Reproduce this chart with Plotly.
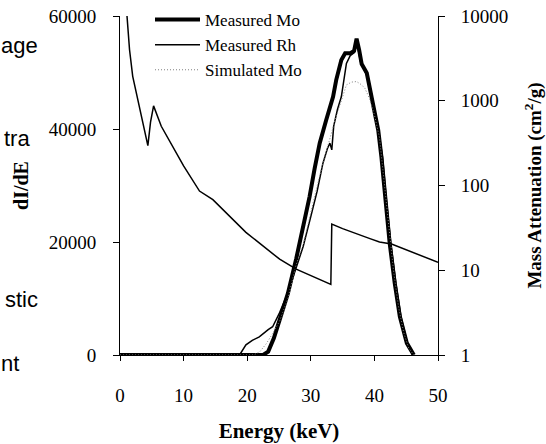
import plotly.graph_objects as go

# ---- data ----
# Measured Mo spectrum (thick line), left axis dI/dE
mo_energy = [0, 22.5, 23.3, 24.2, 25.1, 26.4, 27.7, 28.8, 29.8, 30.6, 31.4, 32.4, 33.5, 34.0,
             34.8, 35.4, 36.2, 36.8, 37.2, 37.6, 38.0, 38.8, 39.6, 40.6, 41.1, 41.7, 42.4,
             43.2, 44.0, 45.1, 45.9, 46.2]
mo_counts = [0, 0, 600, 3000, 6200, 10900, 17000, 22500, 28000, 33000, 37500, 41500, 45700, 48700,
             52200, 53400, 53400, 53800, 56000, 54000, 51500, 49900, 45700, 39800, 35100, 27400, 19800,
             12700, 6800, 2100, 300, 0]

# Measured Rh spectrum (thin black line)
rh_energy = [0, 18.8, 19.8, 20.8, 21.9, 22.5, 23.3, 24.0, 25.1, 26.4, 27.6, 28.8, 30.0, 31.0,
             31.9, 32.6, 33.0, 33.3, 33.6, 34.2, 34.8, 35.6, 36.2, 36.8, 37.3, 37.8, 38.8, 39.7,
             40.7, 41.3, 41.9, 42.6, 43.4, 44.2, 45.2, 46.0]
rh_counts = [0, 0, 1800, 2600, 3200, 3800, 4500, 5000, 7500, 11000, 15000, 19200, 24500, 29000,
             33900, 36500, 37500, 36300, 40500, 43500, 45700, 51600, 53000, 53500, 55000, 52000, 49500, 45300,
             39500, 34800, 27300, 19600, 12500, 6700, 2000, 0]

# Simulated Mo spectrum (thin grey dotted line)
sim_energy = [0, 21.0, 22.0, 23.0, 24.0, 25.1, 26.4, 27.7, 28.8, 29.8, 30.8, 31.8, 32.8, 33.8,
              34.8, 35.6, 36.4, 37.2, 38.0, 38.5, 39.2, 40.0, 40.8, 41.5, 42.3, 43.0, 43.8,
              44.6, 45.4, 46.2]
sim_counts = [0, 0, 600, 2000, 3800, 6000, 10000, 16000, 19500, 24500, 29000, 33500, 37500, 41500,
              45000, 47800, 48300, 48400, 47800, 47200, 45500, 42500, 38500, 31500, 22500, 15000, 8500,
              4000, 1200, 0]

# Mass attenuation curve (thin black line), right log axis
att_energy = [1.1, 1.5, 2.0, 2.8, 3.6, 4.38, 4.8, 5.28, 6.49, 8.85, 10.0, 12.5, 14.6, 19.8,
              25.1, 27.7, 33.15, 33.3, 35.0, 39.3, 40.8, 42.7, 50.0]
att_values = [10000, 4000, 1940, 1030, 550, 295, 560, 870, 500, 242, 170, 86, 68, 28,
              13.5, 10.3, 6.8, 35, 31, 23.6, 21.5, 20.4, 12.4]

x_ticks = [0, 10, 20, 30, 40, 50]
y_ticks = [0, 20000, 40000, 60000]
y2_ticks = [1, 10, 100, 1000, 10000]

# left-edge text fragments visible in the cropped reference
side_texts = ["age", "tra", "stic", "nt"]
side_text_y = [45, 138, 299, 363]
side_text_right = [40, 32, 40, 21]

SERIF = "Liberation Serif, Times New Roman, serif"

fig = go.Figure()
fig.add_trace(go.Scatter(x=mo_energy, y=mo_counts, mode="lines", name="Measured Mo",
                         line=dict(color="black", width=4)))
fig.add_trace(go.Scatter(x=rh_energy, y=rh_counts, mode="lines", name="Measured Rh",
                         line=dict(color="black", width=1.5)))
fig.add_trace(go.Scatter(x=sim_energy, y=sim_counts, mode="lines", name="Simulated Mo",
                         line=dict(color="#808080", width=1, dash="1px,2px")))
fig.add_trace(go.Scatter(x=att_energy, y=att_values, mode="lines", name="Mass attenuation",
                         yaxis="y2", showlegend=False,
                         line=dict(color="black", width=1.5)))

W, H = 546, 444
L, R, T, B = 120, 108, 16, 89
pw, ph = W - L - R, H - T - B

fig.update_layout(
    width=W, height=H,
    margin=dict(l=L, r=R, t=T, b=B, autoexpand=False),
    paper_bgcolor="white", plot_bgcolor="white",
    font=dict(family=SERIF, color="black", size=19),
    xaxis=dict(range=[0, 50], tickvals=x_ticks, showline=True, linecolor="black", linewidth=1,
               ticks="outside", ticklen=5, tickcolor="black", showgrid=False, zeroline=False,
               ticklabelstandoff=18,
               title=dict(text="<b>Energy (keV)</b>", font=dict(size=21), standoff=18)),
    yaxis=dict(range=[0, 60000], tickvals=y_ticks, ticktext=[str(v) for v in y_ticks],
               showline=True, linecolor="black", linewidth=1,
               ticks="outside", ticklen=6, tickcolor="black", showgrid=False, zeroline=False,
               ticklabelstandoff=13,
               title=dict(text="<b>dI/dE</b>", font=dict(size=20), standoff=14)),
    yaxis2=dict(type="log", range=[0, 4], tickvals=y2_ticks, ticktext=[str(v) for v in y2_ticks],
                overlaying="y", side="right", showline=True, linecolor="black", linewidth=1,
                ticks="outside", ticklen=6, tickcolor="black", showgrid=False, zeroline=False,
                ticklabelstandoff=12,
                title=dict(text="<b>Mass Attenuation (cm<sup>2</sup>/g)</b>", font=dict(size=19),
                           standoff=22)),
    legend=dict(x=(150 - L) / pw, y=1 + (T - 2) / ph, xanchor="left", yanchor="top",
                bgcolor="rgba(0,0,0,0)", borderwidth=0, font=dict(family=SERIF, size=17),
                itemwidth=45, tracegroupgap=0),
    showlegend=True,
)

for txt, ypix, xr in zip(side_texts, side_text_y, side_text_right):
    fig.add_annotation(text=txt, xref="paper", yref="paper",
                       x=(xr - L) / pw, y=1 - (ypix - T) / ph,
                       xanchor="right", yanchor="middle", showarrow=False,
                       font=dict(family="Liberation Sans, Arial, sans-serif", size=22))

fig.write_html("out.html", config={"displayModeBar": False},
               post_script="document.body.style.margin='0';")
